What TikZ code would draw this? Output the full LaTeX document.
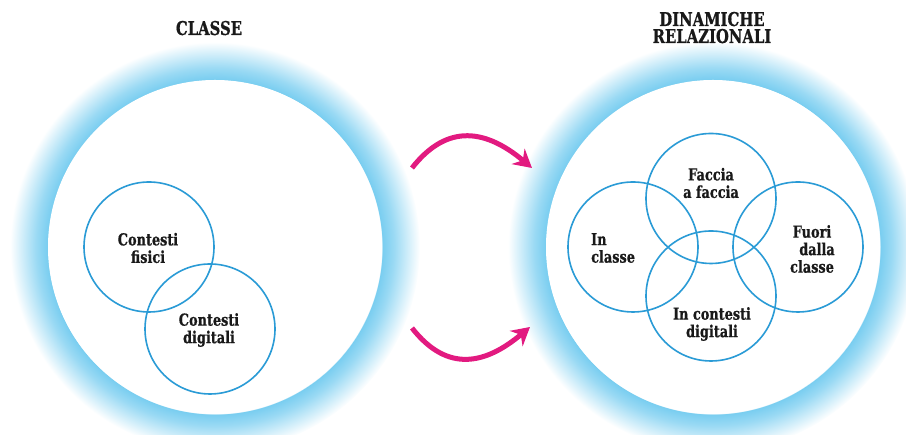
\documentclass[tikz,border=0pt]{standalone}
\usepackage{fontspec}
\setmainfont{DejaVu Serif}[FakeStretch=0.78, BoldFeatures={FakeBold=0.7}]
\usetikzlibrary{arrows.meta}

\definecolor{ringblue}{RGB}{42,155,214}
\definecolor{haloblue}{RGB}{120,205,240}
\definecolor{arrowpink}{RGB}{226,26,128}
\definecolor{ink}{RGB}{25,25,25}

% soft blue rim: white core, strong blue at the rim, fading out to white
\pgfdeclareradialshading{halo}{\pgfpoint{0bp}{0bp}}{%
  color(0bp)=(white); color(20.3bp)=(white); color(20.37bp)=(haloblue);
  color(21.8bp)=(haloblue!75); color(25bp)=(white); color(50bp)=(white)}

\begin{document}
\begin{tikzpicture}[x=1pt,y=1pt,
  haloring/.style={circle, minimum size=410pt, inner sep=0pt, shading=halo},
  field/.style={circle, minimum size=334pt, inner sep=0pt, fill=white},
  ring/.style={circle, minimum size=130pt, inner sep=0pt, draw=ringblue, line width=1.6pt},
  lbl/.style={font=\bfseries\fontsize{16.5}{17.5}\selectfont, text=ink, inner sep=0pt},
  ttl/.style={font=\bfseries\fontsize{19}{17}\selectfont, text=ink, inner sep=0pt,
    anchor=base, text height=13.5pt, text depth=0pt},
  flow/.style={draw=arrowpink, line width=5pt, looseness=1.25,
    -{Stealth[length=18pt,width=20pt,inset=6pt]}}]
\useasboundingbox (0,0) rectangle (906,435);

% two large fields with their glowing rims
\node[haloring] (haloL) at (215,188) {};
\node[haloring] (haloR) at (713,188) {};
\node[field] (classe) at (215,188) {};
\node[field] (dinamiche) at (713,188) {};

% titles
\node[ttl] (tL) at (209,400) {CLASSE};
\node[ttl] (tR1) at (712,409) {DINAMICHE};
\node[ttl] (tR2) at (712,392) {RELAZIONALI};

% left field: two overlapping contexts
\node[ring] (fisici) at (149,188) {};
\node[ring] (digit) at (210,106) {};
\node[lbl, align=center] (lfis) at (148,187) {Contesti\\fisici};
\node[lbl, align=center] (ldig) at (209,105) {Contesti\\digitali};

% right field: four overlapping relations
\node[ring] (faccia) at (711,236.5) {};
\node[ring] (incl) at (633,188) {};
\node[ring] (fuori) at (798,188) {};
\node[ring] (indig) at (711,139) {};
\node[lbl, align=center] (lfac) at (711,252) {Faccia\\a faccia};
\node[lbl, align=left, anchor=west] (lincl) at (591,187) {In\\classe};
\node[lbl, align=center] (lfuo) at (812,186) {Fuori\\\hspace{10pt}dalla\\classe};
\node[lbl, align=center] (lind) at (712,111) {In contesti\\digitali};

% curved arrows from one field to the other
\coordinate (upS) at (412,267);
\coordinate (upE) at (532,267);
\coordinate (loS) at (412,107);
\coordinate (loE) at (530,108);
\draw[flow] (upS) to[out=52,in=140] (upE);
\draw[flow] (loS) to[out=-52,in=-140] (loE);
\end{tikzpicture}
\end{document}
